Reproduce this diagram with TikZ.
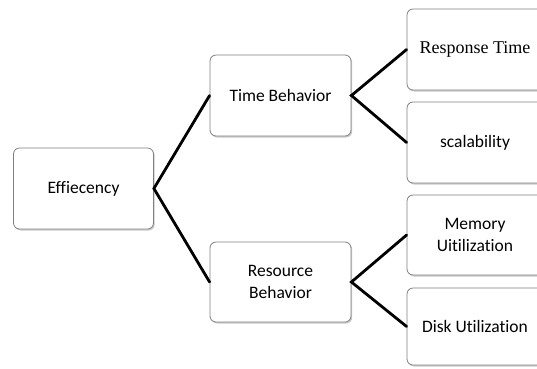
\documentclass[tikz,border=0pt]{standalone}
\usepackage{fontspec}
\setmainfont{Carlito}[Ligatures={NoCommon}]
\newfontfamily\timesfont{Liberation Serif}
\usetikzlibrary{shadows}
\begin{document}
\begin{tikzpicture}[x=1pt,y=-1pt,
  box/.style={draw=black!50, line width=0.8pt, fill=white, rounded corners=6pt,
    align=center, inner sep=0pt, font=\fontsize{17.5}{22}\selectfont,
    drop shadow={shadow xshift=1.2pt, shadow yshift=-1.5pt, opacity=0.35, fill=black!60}},
  conn/.style={line width=2.8pt, black, line cap=round}]
\useasboundingbox (0,0) rectangle (537,368);
\clip (0,0) rectangle (537,368);
\node[box, minimum width=140pt, minimum height=81pt] (eff) at (83.5,188.5) {Effiecency};
\node[box, minimum width=141pt, minimum height=81pt] (tb) at (280.5,95.5) {Time Behavior};
\node[box, minimum width=141pt, minimum height=80pt] (rb) at (280.5,282) {Resource\\Behavior};
\node[box, minimum width=136pt, minimum height=81pt] (rt) at (475,49.5) {\timesfont\fontsize{18}{22}\selectfont Response Time\rule[-3pt]{0pt}{1pt}};
\node[box, minimum width=136pt, minimum height=81pt] (sc) at (475,142.5) {scalability};
\node[box, minimum width=136pt, minimum height=80pt] (mu) at (475,235) {Memory\\Uitilization};
\node[box, minimum width=136pt, minimum height=77pt] (du) at (475,326.5) {Disk Utilization};
\draw[conn] (tb.west) -- (eff.east) -- (rb.west);
\draw[conn] (rt.west) -- (tb.east) -- (sc.west);
\draw[conn] (mu.west) -- (rb.east) -- (du.west);
\end{tikzpicture}
\end{document}
